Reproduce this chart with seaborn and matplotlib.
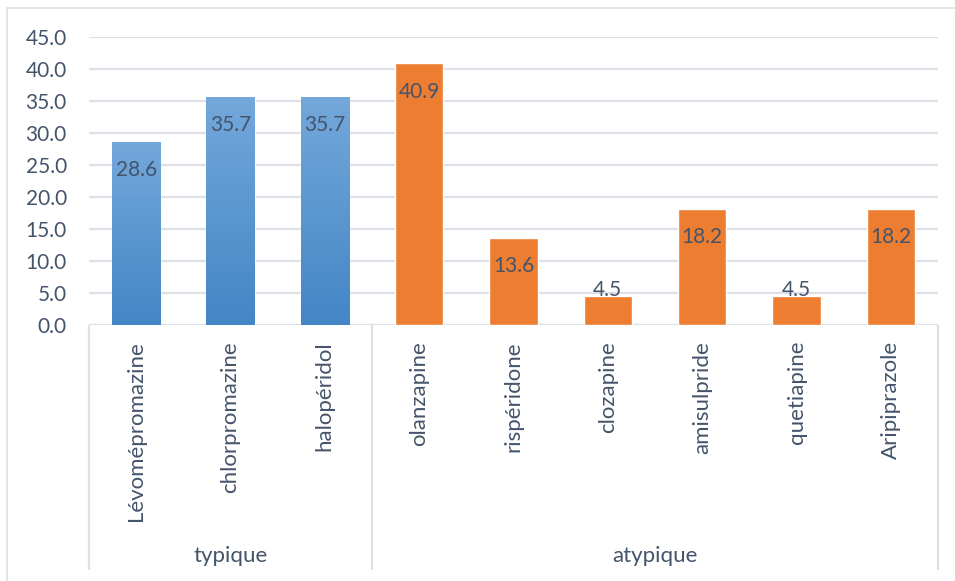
import numpy as np
import pandas as pd
import matplotlib
matplotlib.use("Agg")
import matplotlib.pyplot as plt
import matplotlib.transforms as mtransforms
from matplotlib.colors import LinearSegmentedColormap, to_hex
from matplotlib.patches import Rectangle
import seaborn as sns

# Prescription share (%) by antipsychotic, grouped by class
drugs = ["Lévomépromazine", "chlorpromazine", "halopéridol",
         "olanzapine", "rispéridone", "clozapine", "amisulpride",
         "quetiapine", "Aripiprazole"]
groups = ["typique", "typique", "typique",
          "atypique", "atypique", "atypique", "atypique", "atypique", "atypique"]
values = [28.6, 35.7, 35.7, 40.9, 13.6, 4.5, 18.2, 4.5, 18.2]
group_names = ["typique", "atypique"]
y_ticks = [0, 5, 10, 15, 20, 25, 30, 35, 40, 45]

df = pd.DataFrame({"drug": drugs, "group": groups, "value": values})

sns.set_theme(style="white")
plt.rcParams["font.family"] = ["Lato", "DejaVu Sans"]

TEXT = "#44546a"
GRID = "#dde1e7"
BLUE = "#5b9bd5"
ORANGE = "#ed7d31"
FS_NUM = 15
FS_CAT = 16

W, H = 955, 581
fig = plt.figure(figsize=(W / 100, H / 100), dpi=100)
ax_left, ax_right, ax_top, ax_base = 89, 938, 37, 325
ax = fig.add_axes([ax_left / W, 1 - ax_base / H,
                   (ax_right - ax_left) / W, (ax_base - ax_top) / H])

sns.barplot(data=df, x="drug", y="value", hue="group", order=drugs,
            palette={"typique": BLUE, "atypique": ORANGE},
            dodge=False, width=0.51, legend=False, saturation=1, ax=ax)

ax.set_xlim(-0.5, len(drugs) - 0.5)
ax.set_ylim(0, 45)

# vertical gradient on the "typique" bars
grad_cmap = LinearSegmentedColormap.from_list("blue_grad", ["#4386c6", "#74a8db"])
grad = np.linspace(0, 1, 256).reshape(-1, 1)
for p in list(ax.patches):
    if to_hex(p.get_facecolor()) == BLUE:
        x0, y0 = p.get_x(), p.get_y()
        im = ax.imshow(grad, extent=[x0, x0 + p.get_width(), y0, y0 + p.get_height()],
                       origin="lower", aspect="auto", cmap=grad_cmap,
                       zorder=p.get_zorder() + 0.1, interpolation="bilinear")
        im.set_clip_path(p)
ax.set_xlim(-0.5, len(drugs) - 0.5)
ax.set_ylim(0, 45)

# axes styling
ax.set_yticks(y_ticks)
ax.set_yticklabels([f"{t:.1f}" for t in y_ticks], color=TEXT, fontsize=FS_NUM)
ax.tick_params(axis="y", length=0, pad=16)
ax.set_xticks([])
ax.set_xlabel("")
ax.set_ylabel("")
for s in ax.spines.values():
    s.set_visible(False)
ax.yaxis.grid(True, color=GRID, linewidth=1.6)
ax.set_axisbelow(True)
ax.axhline(0, color=GRID, linewidth=1.6, zorder=0.5)

# value labels at the inner end of each bar
px_per_unit = (ax_base - ax_top) / 45
for i, v in enumerate(values):
    yc = max(v - 28.5 / px_per_unit, 35 / px_per_unit)
    ax.text(i, yc, f"{v:.1f}", ha="center", va="center", color=TEXT,
            fontsize=FS_NUM, zorder=5)

# two-level category axis
trans = mtransforms.blended_transform_factory(ax.transData, ax.transAxes)
ax_h = ax_base - ax_top
for i, name in enumerate(drugs):
    ax.text(i, -16 / ax_h, name, rotation=90, ha="center", va="top",
            color=TEXT, fontsize=FS_CAT, transform=trans, clip_on=False)

bounds = [-0.5]
for g in group_names:
    n = groups.count(g)
    bounds.append(bounds[-1] + n)
for g, a, b in zip(group_names, bounds[:-1], bounds[1:]):
    ax.text((a + b) / 2, -(556 - ax_base) / ax_h, g, ha="center", va="center",
            color=TEXT, fontsize=FS_CAT, transform=trans, clip_on=False)
for b in bounds:
    ax.plot([b, b], [0, -(570 - ax_base) / ax_h], color=GRID, linewidth=1.6,
            transform=trans, clip_on=False, solid_capstyle="butt")

# chart frame
fig.patches.append(Rectangle((7 / W, -0.1), 1.2, 1 - 8 / H + 0.1,
                             transform=fig.transFigure, fill=False,
                             edgecolor="#e1e4e8", linewidth=1.4))

fig.savefig("out.png", dpi=100, facecolor="white")
